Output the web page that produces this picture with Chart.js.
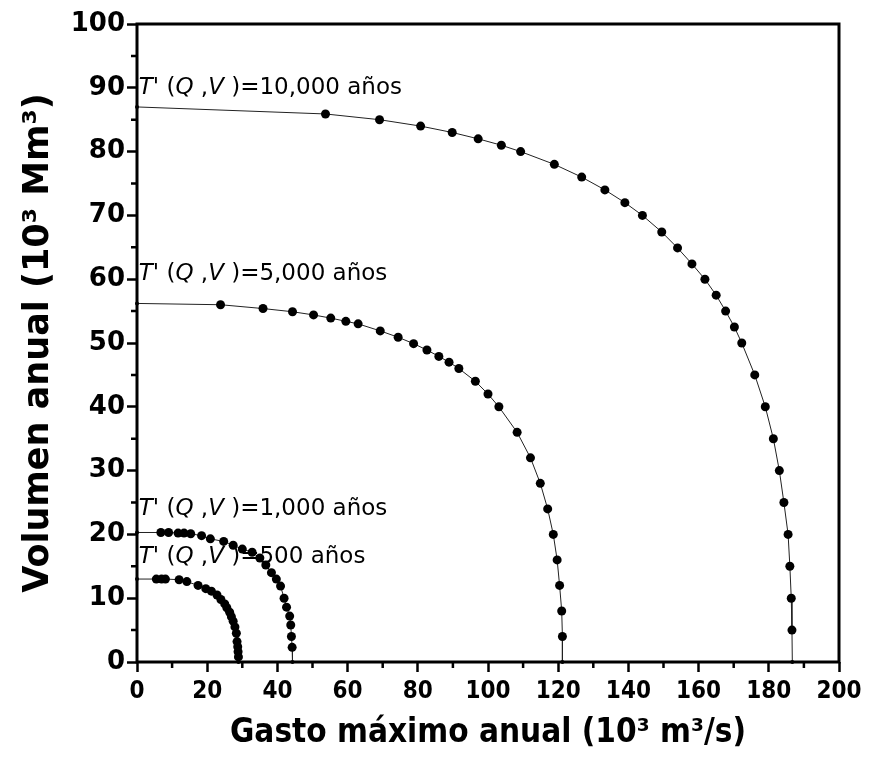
<!DOCTYPE html>
<html>
<head>
<meta charset="utf-8">
<script src="https://cdn.jsdelivr.net/npm/chart.js@4"></script>
<style>
  body { margin: 0; background: #fff; }
</style>
</head>
<body>
<canvas id="c" width="870" height="763"></canvas>
<script>
// gasto (10^3 m3/s) vs volumen (10^3 Mm3)
const q10000 = [0, 53.7, 69.1, 80.8, 89.8, 97.2, 103.8, 109.3, 118.9, 126.7, 133.3, 139.0, 144.0, 149.5, 154.0, 158.1, 161.8, 165.0, 167.7, 170.2, 172.3, 176.0, 179.0, 181.3, 183.0, 184.3, 185.5, 186.0, 186.4, 186.6, 186.7];
const v10000 = [87.0, 85.9, 85.0, 84.0, 83.0, 82.0, 81.0, 80.0, 78.0, 76.0, 74.0, 72.0, 70.0, 67.4, 64.9, 62.4, 60.0, 57.5, 55.0, 52.5, 50.0, 45.0, 40.0, 35.0, 30.0, 25.0, 20.0, 15.0, 10.0, 5.0, 0];

const q5000 = [0, 23.8, 35.9, 44.3, 50.3, 55.2, 59.5, 63.0, 69.3, 74.4, 78.8, 82.6, 86.0, 88.9, 91.7, 96.4, 100.0, 103.1, 108.3, 112.1, 114.9, 117.0, 118.6, 119.7, 120.4, 121.0, 121.2, 121.2];
const v5000 = [56.2, 56.0, 55.4, 54.9, 54.4, 53.9, 53.4, 53.0, 51.9, 50.9, 49.9, 48.9, 47.9, 47.0, 46.0, 44.0, 42.0, 40.0, 36.0, 32.0, 28.0, 24.0, 20.0, 16.0, 12.0, 8.0, 4.0, 0];

const q1000 = [0, 6.8, 9.0, 11.7, 13.4, 15.3, 18.4, 20.9, 24.7, 27.4, 30.0, 32.8, 35.0, 36.7, 38.3, 39.7, 40.9, 41.9, 42.6, 43.5, 43.8, 44.0, 44.2, 44.3];
const v1000 = [20.3, 20.3, 20.3, 20.2, 20.2, 20.1, 19.8, 19.3, 18.9, 18.3, 17.7, 17.2, 16.3, 15.2, 14.0, 13.0, 11.9, 10.0, 8.6, 7.2, 5.8, 4.0, 2.3, 0];

const q500 = [0, 5.5, 7.0, 8.1, 12.0, 14.2, 17.4, 19.6, 21.2, 22.8, 23.9, 25.0, 25.6, 26.4, 26.9, 27.4, 27.9, 28.3, 28.5, 28.7, 28.8, 28.9, 28.9];
const v500 = [13.0, 13.0, 13.0, 13.0, 12.9, 12.6, 12.0, 11.5, 11.1, 10.5, 9.8, 9.1, 8.5, 7.8, 7.1, 6.4, 5.5, 4.5, 3.2, 2.4, 1.6, 0.8, 0];

const periods = ['10,000 años', '5,000 años', '1,000 años', '500 años'];
// where each period label sits, in axis units
const labelX = [0.5, 0.5, 0.5, 0.5];
const labelY = [90.0, 60.8, 24.0, 16.5];

const xTitle = 'Gasto máximo anual (10³ m³/s)';
const yTitle = 'Volumen anual (10³ Mm³)';

function pts(xs, ys) {
  return xs.map((x, i) => ({x: x, y: ys[i]}));
}

function mkSet(xs, ys) {
  const n = xs.length;
  return {
    data: pts(xs, ys),
    showLine: true,
    borderColor: '#222',
    borderWidth: 1,
    backgroundColor: '#000',
    pointBorderWidth: 0,
    pointRadius: (c) => (c.dataIndex === 0 || c.dataIndex === n - 1) ? 2 : 4.5,
    clip: false
  };
}

const extras = {
  id: 'extras',
  beforeDatasetsDraw(chart) {
    const ctx = chart.ctx;
    const xs = chart.scales.x, ys = chart.scales.y;
    ctx.save();
    ctx.fillStyle = '#000';
    ctx.textBaseline = 'middle';
    periods.forEach((p, i) => {
      let px = xs.getPixelForValue(labelX[i]);
      const py = ys.getPixelForValue(labelY[i]);
      const parts = [["T'", true], [' (', false], ['Q', true], [' ,', false], ['V', true], [' )=' + p, false]];
      parts.forEach(([t, it]) => {
        ctx.font = (it ? 'italic ' : '') + '23px "DejaVu Sans"';
        ctx.fillText(t, px, py);
        px += ctx.measureText(t).width;
      });
    });
    ctx.restore();
  },
  afterDraw(chart) {
    const ctx = chart.ctx;
    const a = chart.chartArea;
    const xs = chart.scales.x, ys = chart.scales.y;
    ctx.save();
    ctx.strokeStyle = '#000';
    // minor ticks
    ctx.lineWidth = 2.5;
    ctx.beginPath();
    for (let v = 10; v < 200; v += 20) {
      const px = xs.getPixelForValue(v);
      ctx.moveTo(px, a.bottom);
      ctx.lineTo(px, a.bottom + 6);
    }
    for (let v = 5; v < 100; v += 10) {
      const py = ys.getPixelForValue(v);
      ctx.moveTo(a.left, py);
      ctx.lineTo(a.left - 6, py);
    }
    ctx.stroke();
    // frame
    ctx.lineWidth = 3;
    ctx.strokeRect(a.left, a.top, a.right - a.left, a.bottom - a.top);
    ctx.restore();
  }
};

new Chart(document.getElementById('c'), {
  type: 'scatter',
  data: {
    datasets: [
      mkSet(q10000, v10000),
      mkSet(q5000, v5000),
      mkSet(q1000, v1000),
      mkSet(q500, v500)
    ]
  },
  options: {
    responsive: false,
    animation: false,
    layout: { padding: { top: 24, right: 31, left: 0, bottom: 0 } },
    plugins: { legend: { display: false }, tooltip: { enabled: false } },
    scales: {
      x: {
        type: 'linear',
        min: 0, max: 200,
        border: { display: false },
        grid: { drawOnChartArea: false, tickLength: 10, tickWidth: 2.5, tickColor: '#000' },
        ticks: { stepSize: 20, padding: 5, color: '#000', font: { family: '"DejaVu Sans Condensed", "DejaVu Sans"', weight: 'bold', size: 24 } },
        title: { display: true, text: xTitle, color: '#000', padding: { top: 0, bottom: 10 }, font: { family: '"DejaVu Sans Condensed", "DejaVu Sans"', weight: 'bold', size: 33 } },
        afterFit: (s) => { s.height = 101; }
      },
      y: {
        type: 'linear',
        min: 0, max: 100,
        border: { display: false },
        grid: { drawOnChartArea: false, tickLength: 10, tickWidth: 2.5, tickColor: '#000' },
        ticks: { stepSize: 10, padding: 2, color: '#000', font: { family: '"DejaVu Sans"', weight: 'bold', size: 26 } },
        title: { display: true, text: yTitle, color: '#000', padding: { top: 18, bottom: 0 }, font: { family: '"DejaVu Sans"', weight: 'bold', size: 35 } },
        afterFit: (s) => { s.width = 137; }
      }
    }
  },
  plugins: [extras]
});
</script>
</body>
</html>
